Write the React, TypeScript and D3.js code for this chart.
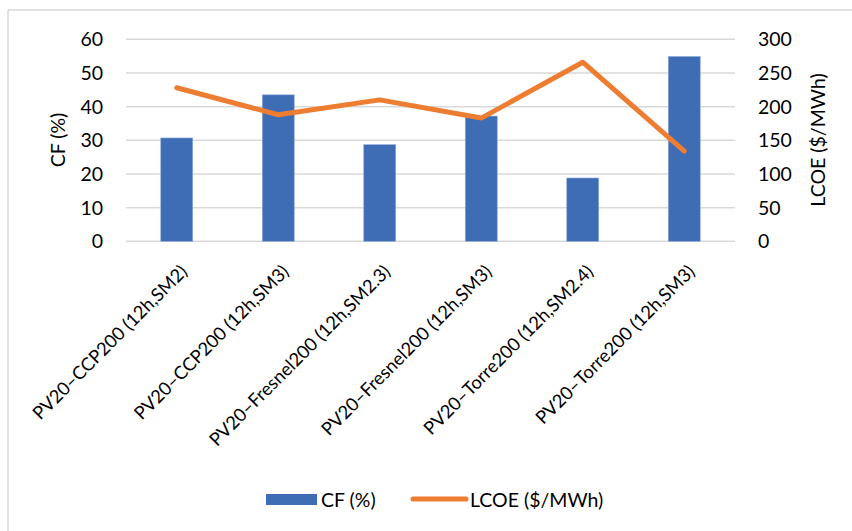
import React from "react";
import * as d3 from "d3";

const categories = [
  "PV20–CCP200 (12h,SM2)",
  "PV20–CCP200 (12h,SM3)",
  "PV20–Fresnel200 (12h,SM2.3)",
  "PV20–Fresnel200 (12h,SM3)",
  "PV20–Torre200 (12h,SM2.4)",
  "PV20–Torre200 (12h,SM3)",
];
const cfValues = [30.7, 43.5, 28.7, 37.2, 18.8, 54.9];
const lcoeValues = [228, 188, 210, 183, 266, 134];
const leftTicks = [0, 10, 20, 30, 40, 50, 60];
const rightTicks = [0, 50, 100, 150, 200, 250, 300];

const W = 852;
const H = 531;
const FONT = "Lato, 'Open Sans', sans-serif";
const BLUE = "#3e6db5";
const ORANGE = "#ed7d31";
const GRID = "#d9d9d9";

export default function App() {
  const plot = { left: 126, right: 735, top: 39.3, bottom: 241.3 };

  const x = d3
    .scaleBand<string>()
    .domain(categories)
    .range([plot.left, plot.right])
    .paddingInner(0.685)
    .paddingOuter(0.3425);
  const xc = d3.scalePoint<string>().domain(categories).range([plot.left, plot.right]).padding(0.5);
  const yL = d3.scaleLinear().domain([0, 60]).range([plot.bottom, plot.top]);
  const yR = d3.scaleLinear().domain([0, 300]).range([plot.bottom, plot.top]);

  const line = d3
    .line<number>()
    .x((_, i) => xc(categories[i]) as number)
    .y((d) => yR(d));

  return (
    <svg
      width={W}
      height={H}
      style={{ position: "absolute", left: 0, top: 0, background: "#fff" }}
      fontFamily={FONT}
    >
      {/* frame edges */}
      <line x1={8} x2={8} y1={10} y2={H} stroke={GRID} strokeWidth={1.5} />
      <line x1={8} x2={W} y1={10} y2={10} stroke={GRID} strokeWidth={1.5} />

      {/* gridlines */}
      {leftTicks.map((t) => (
        <line
          key={"g" + t}
          x1={plot.left}
          x2={plot.right}
          y1={yL(t)}
          y2={yL(t)}
          stroke={GRID}
          strokeWidth={1.5}
        />
      ))}

      {/* bars */}
      {categories.map((c, i) => (
        <rect
          key={"b" + c}
          x={x(c)}
          y={yL(cfValues[i])}
          width={x.bandwidth()}
          height={plot.bottom - yL(cfValues[i])}
          fill={BLUE}
          stroke="#8fabd9"
          strokeWidth={0.6}
        />
      ))}

      {/* line series */}
      <path
        d={line(lcoeValues) || ""}
        fill="none"
        stroke={ORANGE}
        strokeWidth={5}
        strokeLinejoin="round"
        strokeLinecap="round"
      />

      {/* left axis ticks */}
      {leftTicks.map((t) => (
        <text
          key={"l" + t}
          x={103}
          y={yL(t)}
          dy="0.36em"
          textAnchor="end"
          fontSize={19.5}
          fill="#000"
        >
          {t}
        </text>
      ))}
      {/* right axis ticks */}
      {rightTicks.map((t) => (
        <text
          key={"r" + t}
          x={758}
          y={yR(t)}
          dy="0.36em"
          textAnchor="start"
          fontSize={19.5}
          fill="#000"
        >
          {t}
        </text>
      ))}

      {/* axis titles */}
      <text
        transform={`translate(58,140) rotate(-90)`}
        textAnchor="middle"
        dy="0.36em"
        fontSize={19.5}
      >
        CF (%)
      </text>
      <text
        transform={`translate(818,140) rotate(-90)`}
        textAnchor="middle"
        dy="0.36em"
        fontSize={19.5}
      >
        LCOE ($/MWh)
      </text>

      {/* category labels */}
      {categories.map((c) => (
        <text
          key={"x" + c}
          transform={`translate(${(xc(c) as number) + 2},${263}) rotate(-45)`}
          textAnchor="end"
          dy="0.75em"
          fontSize={18.3}
        >
          {c}
        </text>
      ))}

      {/* legend */}
      <rect x={266} y={494} width={51} height={11} fill={BLUE} />
      <text x={321} y={499.5} dy="0.36em" fontSize={19.5}>
        CF (%)
      </text>
      <line x1={413} x2={466} y1={499} y2={499} stroke={ORANGE} strokeWidth={5} strokeLinecap="round" />
      <text x={470} y={499.5} dy="0.36em" fontSize={19.5}>
        LCOE ($/MWh)
      </text>
    </svg>
  );
}
